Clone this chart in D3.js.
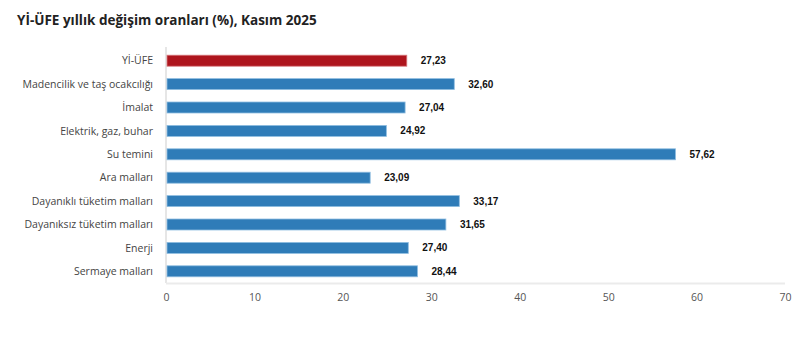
<!DOCTYPE html>
<html>
<head>
<meta charset="utf-8">
<script src="https://cdn.jsdelivr.net/npm/d3@7"></script>
<style>
  html, body { margin: 0; padding: 0; background: #fff; }
  svg { display: block; }
</style>
</head>
<body>
<svg id="chart" width="810" height="347"></svg>
<script>
// Annual change rates of the domestic producer price index, November 2025
const categories = [
  "Yİ-ÜFE",
  "Madencilik ve taş ocakcılığı",
  "İmalat",
  "Elektrik, gaz, buhar",
  "Su temini",
  "Ara malları",
  "Dayanıklı tüketim malları",
  "Dayanıksız tüketim malları",
  "Enerji",
  "Sermaye malları"
];
const values = [27.23, 32.60, 27.04, 24.92, 57.62, 23.09, 33.17, 31.65, 27.40, 28.44];
const xTicks = [0, 10, 20, 30, 40, 50, 60, 70];
const titleText = "Yİ-ÜFE yıllık değişim oranları (%), Kasım 2025";

const svg = d3.select("#chart");
const margin = { left: 166, right: 25, top: 49, bottom: 64 };
const W = 810, H = 347;

const x = d3.scaleLinear().domain([0, 70]).range([margin.left, W - margin.right]);
const y = d3.scaleBand().domain(categories).range([margin.top, H - margin.bottom]).paddingInner(0.53).paddingOuter(0.265);

const fmt = v => v.toFixed(2).replace(".", ",");

// Title
svg.append("text")
  .attr("x", 17).attr("y", 25)
  .attr("font-family", "'Open Sans', sans-serif")
  .attr("font-weight", 700)
  .attr("font-size", 13.5)
  .attr("fill", "#222")
  .text(titleText);

// Axis lines
svg.append("line")
  .attr("x1", x(0)).attr("x2", x(0))
  .attr("y1", margin.top - 2).attr("y2", H - margin.bottom)
  .attr("stroke", "#e6e6e6").attr("stroke-width", 2);
svg.append("line")
  .attr("x1", x(0)).attr("x2", x(70))
  .attr("y1", H - margin.bottom + 0.5).attr("y2", H - margin.bottom + 0.5)
  .attr("stroke", "#ebebeb").attr("stroke-width", 2);

// Bars
svg.append("g").selectAll("rect")
  .data(categories)
  .join("rect")
  .attr("x", x(0) + 1)
  .attr("y", d => y(d))
  .attr("width", (d, i) => x(values[i]) - x(0) - 1)
  .attr("height", y.bandwidth())
  .attr("fill", (d, i) => i === 0 ? "#ae151d" : "#2f7cb8")
  .attr("stroke", (d, i) => i === 0 ? "#d77a7e" : "#8fbde0")
  .attr("stroke-width", 0.8);

// Value labels
svg.append("g").selectAll("text")
  .data(categories)
  .join("text")
  .attr("x", (d, i) => x(values[i]) + 14)
  .attr("y", d => y(d) + y.bandwidth() / 2)
  .attr("dy", "0.35em")
  .attr("font-family", "'Liberation Sans', Arial, sans-serif")
  .attr("font-weight", 700)
  .attr("font-size", 10)
  .attr("fill", "#111")
  .text((d, i) => fmt(values[i]));

// Category labels
svg.append("g").selectAll("text")
  .data(categories)
  .join("text")
  .attr("x", 153)
  .attr("y", d => y(d) + y.bandwidth() / 2)
  .attr("dy", "0.35em")
  .attr("text-anchor", "end")
  .attr("font-family", "'Open Sans', sans-serif")
  .attr("font-size", 10.5)
  .attr("fill", "#444")
  .text(d => d);

// X axis tick labels
const xAxis = d3.axisBottom(x).tickValues(xTicks).tickSize(0).tickPadding(10);
const gx = svg.append("g")
  .attr("transform", `translate(0,${H - margin.bottom + 1})`)
  .call(xAxis);
gx.select(".domain").remove();
gx.selectAll("text")
  .attr("font-family", "'Open Sans', sans-serif")
  .attr("font-size", 10.5)
  .attr("fill", "#555");
</script>
</body>
</html>
